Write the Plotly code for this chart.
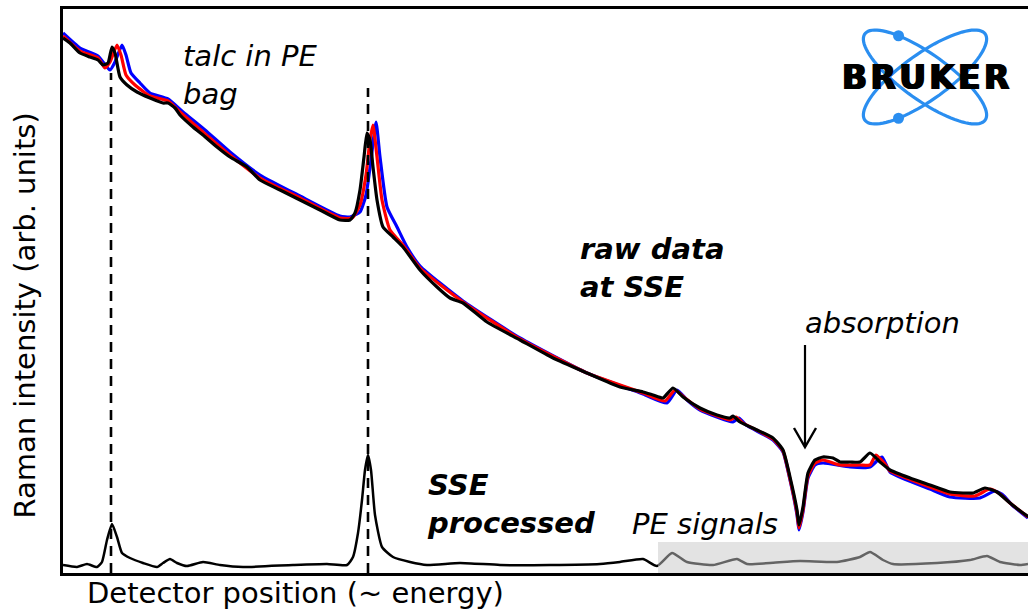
import numpy as np
import plotly.graph_objects as go

# ---------------- data (detector channel, intensity in arb. units) ----------------
raw_black_x = [0, 7, 17, 27, 35, 40, 45, 49, 52, 57, 64, 74, 87, 100, 105, 112, 117, 130, 140, 154,
               167, 184, 197, 217, 237, 257, 277, 287, 292, 297, 301, 304, 307, 310, 314, 320, 330, 340,
               357, 374, 387, 400, 424, 457, 490, 524, 557, 580, 590, 600, 610, 620, 637, 654, 667, 670,
               677, 694, 710, 720, 727, 734, 736, 740, 745, 752, 760, 770, 777, 787, 797, 807, 817, 827,
               847, 867, 887, 900, 910, 922, 934, 947, 960, 966]
raw_black_y = [535, 530, 520, 516, 513, 508, 510, 526, 520, 496, 488, 481, 475, 470, 470, 465, 458, 446, 438, 426,
               416, 406, 393, 383, 373, 363, 353, 353, 360, 383, 416, 440, 433, 406, 373, 346, 336, 326,
               303, 286, 275, 270, 251, 233, 215, 200, 186, 181, 178, 175, 185, 176, 165, 158, 155, 157,
               151, 143, 135, 123, 96, 63, 48, 66, 100, 113, 116, 115, 111, 111, 111, 120, 111, 103,
               95, 88, 81, 80, 80, 85, 81, 70, 60, 56]

raw_red_x = [0, 17, 35, 42, 47, 54, 58, 63, 72, 87, 105, 117, 140, 167, 197, 237, 277, 289, 297, 303, 307,
             310, 314, 319, 327, 340, 357, 400, 457, 524, 580, 602, 612, 622, 637, 667, 673, 680, 710, 720,
             727, 734, 736, 740, 745, 752, 760, 777, 797, 807, 813, 822, 827, 867, 887, 912, 927, 937, 947, 965]
raw_red_y = [537, 522, 515, 505, 511, 528, 518, 498, 488, 477, 472, 461, 441, 418, 395, 375, 355, 355, 368, 398, 433,
             448, 416, 373, 343, 328, 305, 271, 234, 200, 180, 172, 183, 175, 164, 153, 156, 150, 134, 122,
             94, 60, 45, 63, 97, 110, 113, 108, 108, 108, 118, 109, 102, 86, 79, 77, 84, 79, 70, 56]

raw_blue_x = [0, 17, 35, 47, 52, 59, 63, 68, 77, 87, 105, 120, 142, 167, 197, 237, 277, 287, 297, 303, 308,
              313, 317, 324, 334, 344, 357, 400, 457, 524, 580, 604, 614, 624, 637, 670, 676, 683, 710, 720,
              727, 734, 736, 740, 745, 752, 760, 787, 807, 819, 827, 867, 887, 917, 932, 940, 949, 965]
raw_blue_y = [540, 525, 517, 503, 511, 528, 518, 500, 490, 480, 474, 461, 443, 421, 398, 377, 357, 356, 361, 378, 413,
              451, 416, 366, 346, 326, 307, 272, 235, 200, 179, 170, 183, 173, 163, 151, 155, 148, 133, 121,
              93, 58, 43, 61, 95, 108, 110, 106, 106, 116, 101, 84, 76, 75, 82, 78, 68, 55]

proc_x = [0, 14, 24, 34, 39, 44, 49, 54, 59, 67, 80, 94, 100, 107, 114, 124, 140, 157, 180, 230, 264, 284,
          290, 295, 299, 302, 305, 308, 312, 319, 330, 347, 364, 397, 437, 487, 537, 557, 580, 594, 609, 624,
          650, 674, 684, 707, 737, 774, 797, 807, 820, 830, 874, 907, 924, 937, 957, 965]
proc_y = [8, 6, 9, 6, 11, 33, 49, 36, 20, 15, 10, 6, 10, 14, 10, 7, 11, 8, 6, 8, 9, 8,
          16, 40, 73, 103, 118, 103, 58, 26, 16, 11, 8, 10, 8, 8, 9, 11, 14, 7, 20, 11,
          8, 14, 9, 10, 12, 11, 16, 21, 13, 9, 10, 13, 17, 11, 8, 9]

talc_peaks = [48, 305]          # dashed marker positions (channel)
talc_marker_top = [500, 485]    # top of dashed markers (intensity)
pe_region = [595, 965]          # shaded "PE signals" window (channel)
pe_region_top = 31
absorption_x = 742              # arrow position (channel)
arrow_tip, arrow_tail = 126, 228

X_RANGE = [0, 965]
Y_RANGE = [0, 564]

# ---------------- figure ----------------
fig = go.Figure()
fig.add_trace(go.Scatter(x=raw_blue_x, y=raw_blue_y, mode="lines",
                         line=dict(color="#0000ff", width=3.2, shape="spline", smoothing=0.5)))
fig.add_trace(go.Scatter(x=raw_red_x, y=raw_red_y, mode="lines",
                         line=dict(color="#ff0000", width=3.2, shape="spline", smoothing=0.5)))
fig.add_trace(go.Scatter(x=raw_black_x, y=raw_black_y, mode="lines",
                         line=dict(color="#000000", width=3.2, shape="spline", smoothing=0.5)))
fig.add_trace(go.Scatter(x=proc_x, y=proc_y, mode="lines",
                         line=dict(color="#000000", width=2.5, shape="spline", smoothing=0.5)))

shapes = []
for px_, top in zip(talc_peaks, talc_marker_top):
    shapes.append(dict(type="line", xref="x", yref="y", x0=px_, x1=px_, y0=0, y1=top,
                       line=dict(color="black", width=2.6, dash="10px,7px"), layer="above"))
shapes.append(dict(type="rect", xref="x", yref="y", x0=pe_region[0], x1=pe_region[1],
                   y0=0, y1=pe_region_top, fillcolor="rgba(200,200,200,0.5)",
                   line=dict(width=0), layer="above"))
# absorption arrow: shaft + open chevron head
shapes.append(dict(type="line", xref="x", yref="y", x0=absorption_x, x1=absorption_x,
                   y0=arrow_tail, y1=arrow_tip, line=dict(color="black", width=2.2), layer="above"))
hw, hh = 11, 19
shapes.append(dict(type="path", xref="x", yref="y",
                   path=f"M {absorption_x - hw},{arrow_tip + hh} L {absorption_x},{arrow_tip} "
                        f"L {absorption_x + hw},{arrow_tip + hh}",
                   line=dict(color="black", width=2.4), layer="above"))

# ---- Bruker logo (decoration) ----
cx, cy = 862, 496
a_, b_ = 74, 23
blue = "#2a8ef0"
t = np.linspace(0, 2 * np.pi, 90)
for phi in (np.deg2rad(-35.6), np.deg2rad(35.6)):
    ex = cx + a_ * np.cos(t) * np.cos(phi) - b_ * np.sin(t) * np.sin(phi)
    ey = cy + a_ * np.cos(t) * np.sin(phi) + b_ * np.sin(t) * np.cos(phi)
    path = "M " + " L ".join(f"{u:.2f},{v:.2f}" for u, v in zip(ex, ey)) + " Z"
    shapes.append(dict(type="path", xref="x", yref="y", path=path,
                       line=dict(color=blue, width=3.2), layer="above"))
for phi, tt in ((np.deg2rad(-35.6), np.deg2rad(128)), (np.deg2rad(35.6), np.deg2rad(-128))):
    dx = cx + a_ * np.cos(tt) * np.cos(phi) - b_ * np.sin(tt) * np.sin(phi)
    dy = cy + a_ * np.cos(tt) * np.sin(phi) + b_ * np.sin(tt) * np.cos(phi)
    r = 5.5
    shapes.append(dict(type="circle", xref="x", yref="y", x0=dx - r, x1=dx + r, y0=dy - r, y1=dy + r,
                       fillcolor=blue, line=dict(width=0), layer="above"))

FONT = "DejaVu Sans, Verdana, sans-serif"
ann = []
def txt(x, y, s, ref="", **kw):
    d = dict(x=x, y=y, xref="paper" if ref else "x", yref="paper" if ref else "y", text=s,
             showarrow=False, xanchor="left", yanchor="middle",
             align="left", font=dict(family=FONT, size=29, color="black"))
    d.update(kw)
    ann.append(d)

txt(118, 498, "<i>talc in PE<br>bag</i>")
txt(515, 305, "<b><i>raw data<br>at SSE</i></b>")
txt(740, 250, "<i>absorption</i>")
txt(362, 69, "<b><i>SSE<br>processed</i></b>")
txt(567, 49, "<i>PE signals</i>")
txt(0.023, -0.036, "Detector position (~ energy)", ref="paper")
txt(-0.039, 0.457, "Raman intensity (arb. units)", ref="paper", textangle=-90, xanchor="center")
ann.append(dict(x=cx, y=cy, xref="x", yref="y", text="<b>B\u200aR\u200aU\u200aK\u200aE\u200aR</b>",
                showarrow=False, xanchor="center", yanchor="middle",
                font=dict(family="DejaVu Sans", size=33, color="black",
                          shadow="1px 0px 0px #000, -1px 0px 0px #000")))

fig.update_layout(
    width=1028, height=609,
    margin=dict(l=63, r=0, t=9, b=36),
    paper_bgcolor="white", plot_bgcolor="white",
    showlegend=False,
    shapes=shapes, annotations=ann,
    xaxis=dict(range=X_RANGE, showgrid=False, zeroline=False, showticklabels=False, ticks="",
               showline=True, linecolor="black", linewidth=2.5, mirror=True),
    yaxis=dict(range=Y_RANGE, showgrid=False, zeroline=False, showticklabels=False, ticks="",
               showline=True, linecolor="black", linewidth=2.5, mirror=False),
)
fig.write_html("out.html", config={"displayModeBar": False},
               post_script="document.body.style.margin='0';document.body.style.overflow='hidden';")
